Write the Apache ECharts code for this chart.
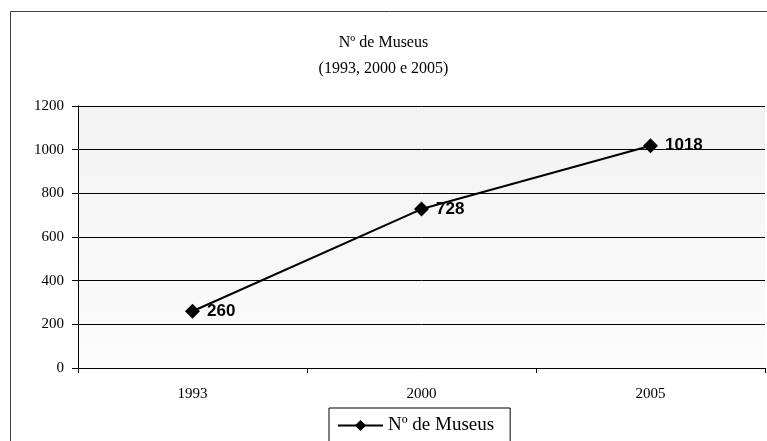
<!DOCTYPE html>
<html>
<head>
<meta charset="utf-8">
<script src="https://cdn.jsdelivr.net/npm/echarts@6/dist/echarts.min.js"></script>
<style>html,body{margin:0;padding:0;background:#fff}#c{width:767px;height:441px}</style>
</head>
<body>
<div id="c"></div>
<script>
var categories = ['1993', '2000', '2005'];
var seriesName = 'Nº de Museus';
var values = [260, 728, 1018];
var titleText = 'Nº de Museus';
var subtitleText = '(1993, 2000 e 2005)';

var chart = echarts.init(document.getElementById('c'));
var serif = '"Liberation Serif", "Times New Roman", serif';
chart.setOption({
  animation: false,
  backgroundColor: '#fff',
  graphic: [{
    type: 'rect', silent: true, z: -1,
    shape: { x: 10.5, y: 11.5, width: 800, height: 500 },
    style: { fill: 'none', stroke: '#404040', lineWidth: 1 }
  }],
  title: {
    text: titleText,
    subtext: subtitleText,
    left: 'center', top: 30,
    itemGap: 10,
    textStyle: { fontFamily: serif, fontSize: 16, fontWeight: 'normal', color: '#000' },
    subtextStyle: { fontFamily: serif, fontSize: 16, color: '#000' }
  },
  legend: {
    top: 408, left: 329,
    padding: [8, 16, 20, 8],
    borderColor: '#000', borderWidth: 1,
    itemWidth: 45, itemHeight: 14,
    textStyle: { fontFamily: serif, fontSize: 19, color: '#000' },
    data: [seriesName]
  },
  grid: {
    left: 78, right: 2, top: 106, bottom: 73,
    show: true, borderWidth: 0,
    backgroundColor: new echarts.graphic.LinearGradient(0, 0, 0, 1, [
      { offset: 0, color: '#f2f2f2' }, { offset: 1, color: '#fcfcfc' }
    ])
  },
  xAxis: {
    type: 'category', data: categories, boundaryGap: true,
    axisLine: { lineStyle: { color: '#000', width: 1 } },
    axisTick: { show: true, length: 5, lineStyle: { color: '#000' } },
    axisLabel: { fontFamily: serif, fontSize: 15, color: '#000', margin: 19 }
  },
  yAxis: {
    type: 'value', min: 0, max: 1200, interval: 200,
    axisLine: { show: true, lineStyle: { color: '#000', width: 1 } },
    axisTick: { show: true, length: 6, lineStyle: { color: '#000' } },
    splitLine: { show: true, lineStyle: { color: '#000', width: 1 } },
    axisLabel: { fontFamily: serif, fontSize: 15, color: '#000', margin: 14,
      formatter: function (v) { return String(v); } }
  },
  series: [{
    name: seriesName, type: 'line', data: values,
    symbol: 'diamond', symbolSize: 15,
    lineStyle: { color: '#000', width: 2 },
    itemStyle: { color: '#000' },
    label: {
      show: true, position: 'right', distance: 7,
      fontFamily: '"Liberation Sans", Arial, sans-serif', fontSize: 17, fontWeight: 'bold', color: '#000'
    }
  }]
});
</script>
</body>
</html>
